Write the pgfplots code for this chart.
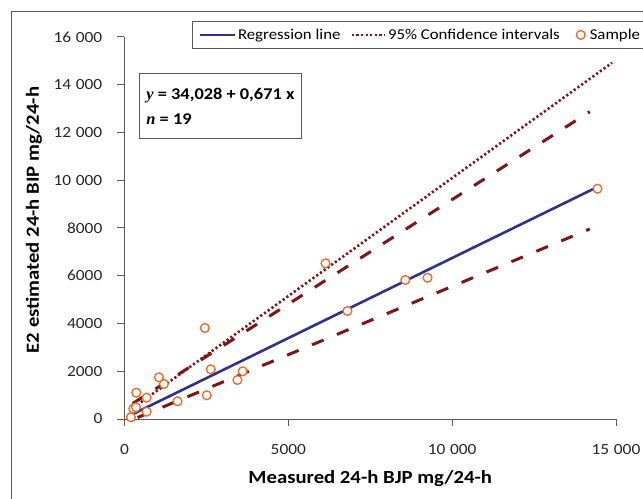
\documentclass[border=0pt]{standalone}
\usepackage{pgfplots}
\pgfplotsset{compat=1.18}
\usepackage{fontspec}
\setmainfont[FakeStretch=1.12]{Carlito}
\newfontfamily\serifit{Liberation Serif}

\definecolor{regblue}{RGB}{46,49,146}
\definecolor{cired}{RGB}{128,21,21}
\definecolor{samporange}{RGB}{242,101,34}
\definecolor{framegray}{RGB}{89,89,89}

\pgfplotsset{
    longline/.style={legend image code/.code={\draw[##1] (0bp,0bp) -- (35bp,0bp);}},
    dotline/.style={legend image code/.code={\draw[##1] (0bp,0bp) -- (33bp,0bp);}},
    samplemark/.style={legend image code/.code={\path[draw=none, fill=none] (0bp,0bp) -- (18bp,0bp);
        \draw[##1] plot coordinates {(11bp,0bp)};}},
}

\begin{document}
\begin{tikzpicture}
\useasboundingbox (-124.5bp,-80bp) rectangle (518.5bp,419bp);
\draw[framegray, line width=0.9bp] (-113.5bp,-140bp) rectangle (580bp,408bp);
\begin{axis}[
    at={(0,0)}, anchor=south west,
    scale only axis,
    width=491.5bp, height=382bp,
    xmin=0, xmax=15000,
    ymin=0, ymax=16000,
    xtick={0,5000,10000,15000},
    ytick={0,2000,...,16000},
    axis lines=left,
    axis line style={framegray, line width=1bp, -},
    tick style={framegray, line width=1bp},
    tick align=outside,
    major tick length=7bp,
    scaled ticks=false,
    /pgf/number format/assume math mode=true,
    /pgf/number format/1000 sep={\hspace{0.3em}},
    /pgf/number format/min exponent for 1000 sep=4,
    ticklabel style={font=\fontsize{15.5bp}{18bp}\selectfont, text=black!85},
    xticklabel style={anchor=center, yshift=-24bp},
    yticklabel style={anchor=east, inner sep=0pt, xshift=-15bp},
    label style={font=\fontsize{18.5bp}{22bp}\selectfont\bfseries},
    xlabel={Measured 24-h BJP mg/24-h},
    ylabel={E2 estimated 24-h BIP mg/24-h},
    xlabel style={at={(axis description cs:0.5,-0.157)}, anchor=center},
    ylabel style={at={(axis description cs:-0.184,0.521)}, anchor=center},
    legend style={at={(0.1373,1.0419)}, anchor=north west,
        draw=framegray, line width=0.9bp,
        font=\fontsize{15bp}{17bp}\selectfont,
        inner ysep=5.5bp, inner xsep=6bp,
        /tikz/every even column/.append style={column sep=8bp}},
    legend columns=-1,
    legend cell align=left,
]
\addplot[regblue, line width=2.6bp, longline]
    coordinates {(198,167) (14435,9720)};
\addlegendentry{Regression line}
\addplot[cired, line width=2.6bp, dash pattern=on 2.2bp off 2.4bp, dotline]
    coordinates {(500,700) (14880,14920)};
\addlegendentry{95\% Confidence intervals}
\addplot[cired, line width=3bp, dash pattern=on 12.5bp off 14.5bp, forget plot]
    coordinates {(250,650) (14200,12871)};
\addplot[cired, line width=3bp, dash pattern=on 12.5bp off 14.5bp, forget plot]
    coordinates {(400,60) (14200,7958)};
\addplot[only marks, mark=*, mark size=4.4bp, samplemark,
    mark options={draw=samporange, fill=white, line width=1.3bp}]
    coordinates {
    (198,71) (268,431) (350,490) (359,1102) (676,306) (676,892)
    (1050,1747) (1202,1466) (1619,741) (2511,993) (2633,2082)
    (3446,1634) (3607,1998) (2451,3812) (6134,6522) (8569,5822)
    (9248,5918) (6804,4524) (14435,9646)
    };
\addlegendentry{Sample}
\node[draw=framegray, line width=0.9bp, anchor=north west,
      minimum width=162bp, minimum height=65bp, align=left,
      inner xsep=7bp,
      font=\fontsize{16.4bp}{25.6bp}\selectfont\bfseries]
    at (rel axis cs:0.0295,0.905)
    {{\serifit\itshape y} = 34,028 + 0,671 x\\{\serifit\itshape n} = 19};
\end{axis}
\end{tikzpicture}
\end{document}
